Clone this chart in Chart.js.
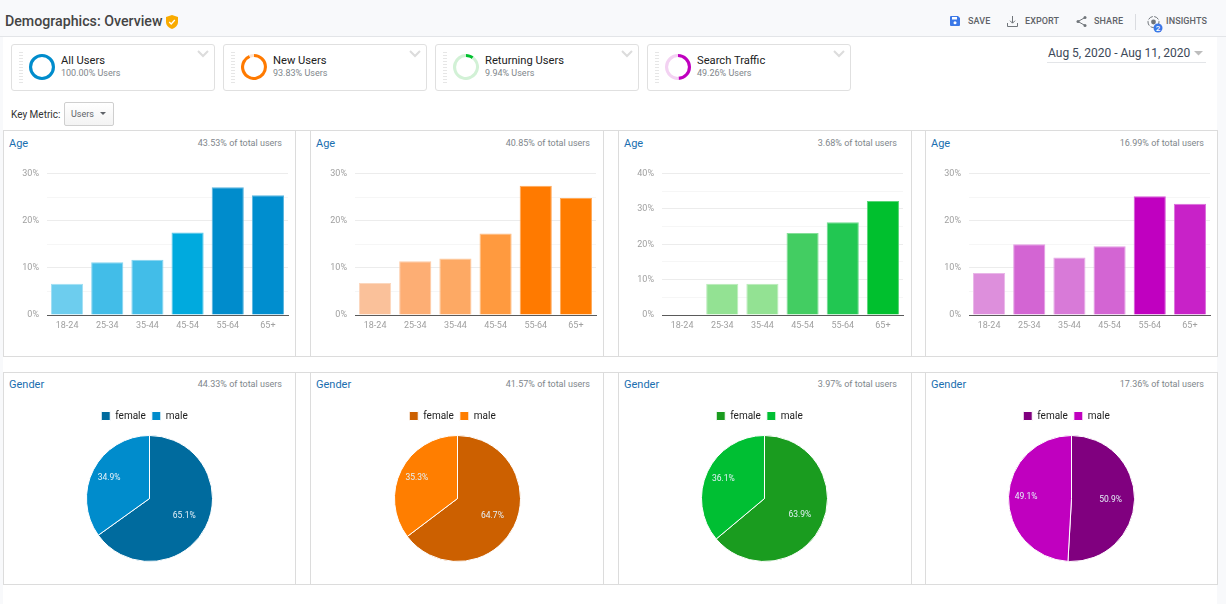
<!DOCTYPE html>
<html>
<head>
<meta charset="utf-8">
<title>Demographics: Overview</title>
<script src="https://cdn.jsdelivr.net/npm/chart.js"></script>
<style>
  html, body { margin: 0; padding: 0; }
  body { width: 1226px; height: 604px; overflow: hidden; position: relative; background: #f8f9fb; font-family: Roboto, sans-serif; }
  .abs { position: absolute; white-space: nowrap; }
  #main { position: absolute; left: 3px; top: 37px; width: 1214px; height: 567px; background: #fff; }
  #head { position: absolute; left: 0; top: 36px; width: 1226px; height: 1px; background: #e3e5e8; }
  .title { left: 5px; top: 12px; font-size: 14.2px; font-weight: 500; color: #444; line-height: 18px; }
  .act { top: 15px; font-size: 9px; font-weight: 500; color: #5f6368; line-height: 12px; letter-spacing: .1px; }
  .card { position: absolute; top: 44px; width: 202px; height: 45px; border: 1px solid #e0e0e0; border-radius: 3px; background: #fff; }
  .grip { position: absolute; left: 7px; top: 7px; width: 4px; height: 31px; background: repeating-linear-gradient(#e6e6e6 0 1px, #fff 1px 3px); }
  .cname { position: absolute; left: 49px; top: 9px; font-size: 11.2px; color: #212121; line-height: 14px; white-space: nowrap; }
  .csub { position: absolute; left: 49px; top: 22px; font-size: 9px; color: #80868b; line-height: 12px; white-space: nowrap; }
  .chev { position: absolute; left: 185px; top: 5px; }
  .date { left: 1048px; top: 45px; font-size: 12px; color: #3c4858; line-height: 16px; }
  .panelrow { position: absolute; left: 3px; width: 1215px; box-sizing: border-box; border: 1px solid #dcdcdc; }
  .vline { position: absolute; width: 1px; background: #dcdcdc; }
  .ptitle { font-size: 11px; color: #1a6fb0; line-height: 14px; }
  .pnote { font-size: 9px; color: #80868b; line-height: 12px; }
  canvas { display: block; }
  .cv { position: absolute; }
</style>
</head>
<body>
<div id="main"></div>
<div id="head"></div>
<div class="abs title">Demographics: Overview</div>
<svg class="abs" style="left:166px;top:15px" width="12" height="14" viewBox="0 0 12 14"><path d="M6 0 L12 2 V7 C12 10.5 9 13 6 14 C3 13 0 10.5 0 7 V2 Z" fill="#f9ab00"/><path d="M3.2 7 L5.2 9 L8.8 5" stroke="#fff" stroke-width="1.3" fill="none"/></svg>

<svg class="abs" style="left:950px;top:16px" width="10" height="10" viewBox="0 0 10 10"><path d="M0 1 Q0 0 1 0 H8 L10 2 V9 Q10 10 9 10 H1 Q0 10 0 9 Z" fill="#3b78e7"/><rect x="2" y="1" width="5" height="2.5" fill="#fff"/><circle cx="5" cy="6.7" r="1.5" fill="#fff"/></svg>
<div class="abs act" style="left:968px">SAVE</div>
<svg class="abs" style="left:1007px;top:16px" width="11" height="11" viewBox="0 0 11 11"><path d="M5.5 0 V7 M3 4.7 L5.5 7.2 L8 4.7 M.5 7 V10.5 H10.5 V7" stroke="#70757a" fill="none"/></svg>
<div class="abs act" style="left:1025px">EXPORT</div>
<svg class="abs" style="left:1076px;top:16px" width="11" height="11" viewBox="0 0 11 11"><path d="M9 1.5 L2 5.5 L9 9.5" stroke="#70757a" fill="none"/><circle cx="9" cy="1.5" r="1.5" fill="#70757a"/><circle cx="2" cy="5.5" r="1.5" fill="#70757a"/><circle cx="9" cy="9.5" r="1.5" fill="#70757a"/></svg>
<div class="abs act" style="left:1094px">SHARE</div>
<div class="abs" style="left:1135px;top:14px;width:1px;height:16px;background:#dadce0"></div>
<svg class="abs" style="left:1146px;top:14px" width="18" height="20" viewBox="0 0 18 20"><circle cx="7.5" cy="8" r="5.5" stroke="#70757a" fill="none" stroke-dasharray="5 1.5"/><circle cx="7.5" cy="8" r="2.4" fill="#70757a"/><circle cx="12" cy="14" r="4.5" fill="#3b78e7"/><text x="12" y="16.8" font-size="8" font-family="Roboto" font-weight="500" fill="#fff" text-anchor="middle">2</text></svg>
<div class="abs act" style="left:1166px">INSIGHTS</div>

<div class="abs date">Aug 5, 2020 - Aug 11, 2020</div>
<svg class="abs" style="left:1194px;top:51px" width="10" height="5"><path d="M0 0 H9 L4.5 4.5 Z" fill="#bdbdbd"/></svg>
<div class="abs" style="left:1047px;top:62px;width:159px;height:1px;background:#e3e5e8"></div>

<div class="abs" style="left:11px;top:108px;font-size:10px;line-height:13px;color:#333">Key Metric:</div>
<div class="abs" style="left:64px;top:102px;width:48px;height:22px;border:1px solid #cfcfcf;border-radius:2px;background:linear-gradient(#fff,#f3f3f3)"></div>
<div class="abs" style="left:71px;top:108px;font-size:9px;line-height:12px;color:#5f6368">Users</div>
<svg class="abs" style="left:100px;top:112px" width="7" height="4"><path d="M0 0 H6 L3 3 Z" fill="#5f6368"/></svg>

<div id="cards"></div>
<div id="panels"></div>

<script>
// segmentos
const segmentNames = ['All Users', 'New Users', 'Returning Users', 'Search Traffic'];
const segmentShares = [100.00, 93.83, 9.94, 49.26];
const segmentNotes = ['100.00% Users', '93.83% Users', '9.94% Users', '49.26% Users'];

// idade
const ageLabels = ['18-24', '25-34', '35-44', '45-54', '55-64', '65+'];
const ageAll = [6.6, 11.2, 11.7, 17.5, 27.1, 25.4];
const ageNew = [6.8, 11.4, 12.0, 17.3, 27.4, 24.8];
const ageReturning = [0, 8.8, 8.8, 23.2, 26.2, 32.2];
const ageSearch = [8.9, 15.0, 12.2, 14.6, 25.2, 23.6];
const ageSeries = [ageAll, ageNew, ageReturning, ageSearch];
const ageMax = [30, 30, 40, 30];
const ageNotes = ['43.53% of total users', '40.85% of total users', '3.68% of total users', '16.99% of total users'];

// genero
const genderLabels = ['female', 'male'];
const genderAll = [65.1, 34.9];
const genderNew = [64.7, 35.3];
const genderReturning = [63.9, 36.1];
const genderSearch = [50.9, 49.1];
const genderSeries = [genderAll, genderNew, genderReturning, genderSearch];
const genderNotes = ['44.33% of total users', '41.57% of total users', '3.97% of total users', '17.36% of total users'];

// cores
const ringColors = [['#008ccc', '#cfe8f5'], ['#ff7a00', '#fde3cf'], ['#00c02e', '#d2f1d6'], ['#c000bf', '#f3d2f2']];
const barColors = [
  ['#6dcdee', '#42bde8', '#42bde8', '#00aade', '#008ccc', '#008ecf'],
  ['#fac19a', '#fdae74', '#fda964', '#ff9a3f', '#ff7a00', '#ff7c00'],
  ['#93e293', '#93e293', '#93e293', '#43cd62', '#22c752', '#00c02e'],
  ['#dd8fdc', '#d365d3', '#d87ad8', '#d365d3', '#c000c0', '#c822c8']
];
const pieColors = [['#006b9e', '#008ccc'], ['#cc6000', '#ff7e00'], ['#1a9c1f', '#00bf33'], ['#80007f', '#c000bf']];

const cardLefts = [11, 223, 435, 647];
const panelLefts = [3, 311, 618, 925];
const titleLefts = [9, 316, 624, 931];
const noteRights = [282, 590, 897, 1204];

Chart.defaults.font.family = 'Roboto';
Chart.defaults.animation = false;
Chart.defaults.responsive = false;
Chart.defaults.events = [];
Chart.defaults.plugins.tooltip.enabled = false;

function addCanvas(parent, left, top, width, height) {
  const c = document.createElement('canvas');
  c.className = 'cv';
  c.width = width;
  c.height = height;
  c.style.left = left + 'px';
  c.style.top = top + 'px';
  c.style.width = width + 'px';
  c.style.height = height + 'px';
  parent.appendChild(c);
  return c;
}

function addText(cls, left, top, text, right) {
  const d = document.createElement('div');
  d.className = 'abs ' + cls;
  d.style.top = top + 'px';
  if (right !== undefined) d.style.right = (1226 - right) + 'px';
  else d.style.left = left + 'px';
  d.textContent = text;
  document.getElementById('panels').appendChild(d);
}

// clareia a cor da barra para fazer o contorno
function lighter(hex) {
  const n = parseInt(hex.slice(1), 16);
  const mix = v => Math.round(v + (255 - v) * 0.35);
  return `rgb(${mix(n >> 16)},${mix((n >> 8) & 255)},${mix(n & 255)})`;
}

// cards de segmento
segmentNames.forEach((name, i) => {
  const card = document.createElement('div');
  card.className = 'card';
  card.style.left = cardLefts[i] + 'px';
  card.innerHTML = `<div class="grip"></div><div class="cname">${name}</div><div class="csub">${segmentNotes[i]}</div>` +
    `<svg class="chev" width="12" height="8"><path d="M1 1 L6 6 L11 1" stroke="#dcdcdc" stroke-width="2" fill="none"/></svg>`;
  document.getElementById('cards').appendChild(card);
  const c = addCanvas(card, 17, 9, 26, 26);
  const rest = Math.max(100 - segmentShares[i], 0);
  new Chart(c, {
    type: 'doughnut',
    data: { datasets: [{ data: [segmentShares[i], rest], backgroundColor: ringColors[i], borderWidth: 0 }] },
    options: { cutout: '76%', plugins: { legend: { display: false } } }
  });
});

// rotulos de % dentro da pizza
const sliceLabels = {
  id: 'sliceLabels',
  afterDatasetsDraw(chart) {
    const ctx = chart.ctx;
    const values = chart.data.datasets[0].data;
    ctx.save();
    ctx.font = '8.5px Roboto';
    ctx.fillStyle = '#e4f1f8';
    ctx.textAlign = 'center';
    ctx.textBaseline = 'middle';
    chart.getDatasetMeta(0).data.forEach((arc, i) => {
      const mid = (arc.startAngle + arc.endAngle) / 2;
      const r = arc.outerRadius * (Math.cos(mid) > 0 ? 0.62 : 0.72);
      ctx.fillText(values[i].toFixed(1) + '%', arc.x + Math.cos(mid) * r, arc.y + Math.sin(mid) * r);
    });
    ctx.restore();
  }
};

// legenda um pouco a esquerda e com folga ate a pizza
const legendTweak = {
  id: 'legendTweak',
  beforeInit(chart) {
    const legend = chart.legend;
    const fit = legend.fit;
    const draw = legend.draw;
    legend.fit = function () {
      fit.call(this);
      this.height += 4;
    };
    legend.draw = function () {
      chart.ctx.save();
      chart.ctx.translate(-5, 0);
      draw.call(this);
      chart.ctx.restore();
    };
  }
};

const panels = document.getElementById('panels');

// moldura das duas linhas
[[130, 227], [372, 213]].forEach(([top, height]) => {
  const row = document.createElement('div');
  row.className = 'panelrow';
  row.style.top = top + 'px';
  row.style.height = height + 'px';
  panels.appendChild(row);
  [295, 310, 603, 618, 911, 925].forEach(x => {
    const v = document.createElement('div');
    v.className = 'vline';
    v.style.left = x + 'px';
    v.style.top = top + 'px';
    v.style.height = height + 'px';
    panels.appendChild(v);
  });
});

panelLefts.forEach((left, i) => {
  addText('ptitle', titleLefts[i], 137, 'Age');
  addText('pnote', 0, 137, ageNotes[i], noteRights[i]);
  addText('ptitle', titleLefts[i], 378, 'Gender');
  addText('pnote', 0, 378, genderNotes[i], noteRights[i]);

  // barras de idade
  const barCanvas = addCanvas(panels, left + 1, 131, 291, 225);
  new Chart(barCanvas, {
    type: 'bar',
    data: {
      labels: ageLabels,
      datasets: [{
        data: ageSeries[i],
        backgroundColor: barColors[i],
        borderColor: barColors[i].map(lighter),
        borderWidth: 1,
        categoryPercentage: 1,
        barPercentage: 0.8
      }]
    },
    options: {
      layout: { padding: { top: 42.5, right: 7 } },
      plugins: { legend: { display: false } },
      scales: {
        x: {
          afterFit: s => { s.height = 41; },
          grid: { display: false, drawTicks: false, tickLength: 0 },
          border: { color: '#5a5a5a', width: 1 },
          ticks: { color: '#a0a0a0', font: { size: 9 }, padding: 5, maxRotation: 0 }
        },
        y: {
          min: 0,
          max: ageMax[i],
          afterFit: s => { s.width = 43; },
          border: { display: false },
          grid: {
            drawTicks: false,
            color: ctx => (ctx.tick.value % 10 === 0 ? '#ececec' : '#f6f6f6')
          },
          ticks: {
            stepSize: 5,
            autoSkip: false,
            color: '#a0a0a0',
            font: { size: 9 },
            padding: 8,
            callback: v => (v % 10 === 0 ? v + '%' : '')
          }
        }
      }
    }
  });

  // pizza de genero
  const pieCanvas = addCanvas(panels, left + 1, 405, 291, 157);
  new Chart(pieCanvas, {
    type: 'pie',
    data: {
      labels: genderLabels,
      datasets: [{ data: genderSeries[i], backgroundColor: pieColors[i], borderColor: '#fff', borderWidth: 1 }]
    },
    options: {
      plugins: {
        legend: {
          position: 'top',
          labels: { boxWidth: 9, boxHeight: 9, padding: 6, color: '#222', font: { size: 10 } }
        }
      }
    },
    plugins: [sliceLabels, legendTweak]
  });
});
</script>
</body>
</html>
